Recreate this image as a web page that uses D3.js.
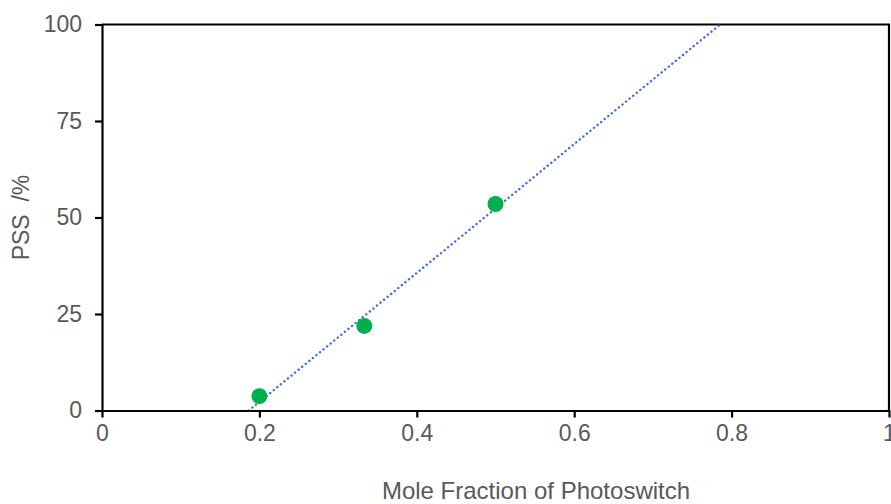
<!DOCTYPE html>
<html><head><meta charset="utf-8">
<script src="https://cdn.jsdelivr.net/npm/d3@7"></script>
<style>html,body{margin:0;padding:0;background:#fff;overflow:hidden}</style>
</head><body>
<svg id="c" width="891" height="504"></svg>
<script>
const moleFraction = [0.2, 0.3333, 0.5];
const pss = [3.7, 21.9, 53.5];
const xTicks = [0, 0.2, 0.4, 0.6, 0.8, 1];
const yTicks = [0, 25, 50, 75, 100];
const xTitle = "Mole Fraction of Photoswitch";
const yTitle = "PSS  /%";

const svg = d3.select("#c");
const L = 102, R = 889, T = 24.5, B = 410.5;
const x = d3.scaleLinear().domain([0, 1]).range([L, R]);
const y = d3.scaleLinear().domain([0, 100]).range([B, T]);
const textColor = "#595959";
const font = "Liberation Sans, Arial, sans-serif";

// plot border (top and right)
svg.append("path").attr("d", `M${L},${T}H${R}V${B}`).attr("fill","none")
  .attr("stroke","#000").attr("stroke-width",2.2);

// linear trendline
const mx = d3.mean(moleFraction), my = d3.mean(pss);
let sxy = 0, sxx = 0;
moleFraction.forEach((v,i)=>{ sxy += (v-mx)*(pss[i]-my); sxx += (v-mx)*(v-mx); });
const slope = sxy/sxx, icpt = my - slope*mx;
const x0 = Math.max(0, (0 - icpt)/slope), x1 = Math.min(1, (100 - icpt)/slope);
svg.append("line")
  .attr("x1", x(x0)).attr("y1", y(slope*x0+icpt))
  .attr("x2", x(x1)).attr("y2", y(slope*x1+icpt))
  .attr("stroke","#3F6FE0").attr("stroke-width",2.4)
  .attr("stroke-linecap","round")
  .attr("stroke-dasharray","0.1 4.5");

// axes
const xAxis = svg.append("g").attr("transform",`translate(0,${B})`)
  .call(d3.axisBottom(x).tickValues(xTicks).tickFormat(d=>d3.format("~g")(d)).tickSizeOuter(0).tickSizeInner(7).tickPadding(7));
const yAxis = svg.append("g").attr("transform",`translate(${L},0)`)
  .call(d3.axisLeft(y).tickValues(yTicks).tickSizeOuter(0).tickSizeInner(7).tickPadding(13));
[xAxis, yAxis].forEach(g=>{
  g.select(".domain").attr("stroke","#000").attr("stroke-width",2.2);
  g.selectAll(".tick line").attr("stroke","#000").attr("stroke-width",2.2);
  g.selectAll(".tick text").attr("fill",textColor).attr("font-family",font).attr("font-size",23);
});

// points
svg.append("g").selectAll("circle").data(moleFraction).join("circle")
  .attr("cx", d=>x(d)).attr("cy", (d,i)=>y(pss[i])).attr("r",8)
  .attr("fill","#00B050");

// titles
svg.append("text").attr("x",536).attr("y",499).attr("text-anchor","middle")
  .attr("fill",textColor).attr("font-family",font).attr("font-size",24).text(xTitle);
svg.append("text").attr("transform",`translate(29,${(T+B)/2}) rotate(-90)`)
  .attr("text-anchor","middle").attr("fill",textColor).attr("font-family",font)
  .attr("font-size",23).style("white-space","pre").text(yTitle);
</script>
</body></html>
